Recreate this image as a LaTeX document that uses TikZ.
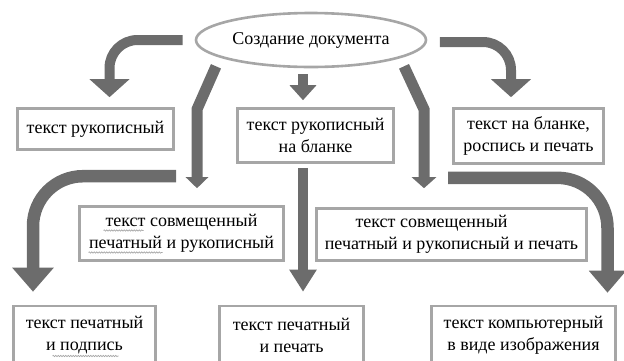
\documentclass[tikz,border=0pt]{standalone}
\usepackage{fontspec}
\setmainfont{Liberation Serif}
\newfontfamily\docfont{Liberation Serif}
\usetikzlibrary{arrows.meta,shapes.geometric,positioning,calc,decorations.pathmorphing}
\definecolor{pipegray}{RGB}{108,108,108}
\definecolor{framegray}{RGB}{166,166,166}
\tikzset{
  docfont/.style={font=\docfont\fontsize{18}{22}\selectfont},
  docbox/.style={docfont, draw=framegray, line width=2.6pt, fill=white, inner sep=0pt, align=center},
  pipe/.style n args={3}{draw=pipegray, line width=#1, -{Triangle[width=#2,length=#3]}},
  spellmark/.style={draw=black!35, line width=0.6pt, decorate,
    decoration={snake, segment length=2.5pt, amplitude=0.7pt}},
}

\begin{document}
\begin{tikzpicture}[x=1pt,y=-1pt]
\useasboundingbox (0,0) rectangle (624,360);

%Ellipse: title
\node[ellipse, docfont, draw=framegray, line width=2.6pt, minimum width=230pt, minimum height=54pt,
  inner sep=0pt] (title) at (311,40) {Создание документа};

%Boxes: first row
\node[docbox, minimum width=156pt, minimum height=41pt] (hand) at (95.5,129) {текст рукописный};
\node[docbox, minimum width=156pt, minimum height=54pt] (blank) at (315.5,135.5) {текст рукописный\\на бланке};
\node[docbox, minimum width=150pt, minimum height=55pt] (stamp) at (528.5,136) {текст на бланке,\\роспись и печать};

%Boxes: second row
\node[docbox, minimum width=204pt, minimum height=54pt] (mixed) at (181.5,233.5) {текст совмещенный\\печатный и рукописный};
\node[docbox, minimum width=270pt, minimum height=52pt] (mixedstamp) at (451.5,234.5) {\hspace*{-40pt}текст совмещенный\\печатный и рукописный и печать};

%Boxes: third row
\node[docbox, minimum width=142pt, minimum height=58pt] (sign) at (84.5,335) {текст печатный\\и подпись};
\node[docbox, minimum width=144pt, minimum height=58pt] (print) at (291.5,335) {текст печатный\\и печать};
\node[docbox, minimum width=184pt, minimum height=58pt] (image) at (523.5,335) {текст компьютерный\\в виде изображения};

%Spell-check marks under words
\draw[spellmark] ($(mixed.center)+(-78,-3)$) -- ($(mixed.center)+(-38,-3)$);
\draw[spellmark] ($(mixed.center)+(-93,19)$) -- ($(mixed.center)+(-19,19)$);
\draw[spellmark] ($(sign.center)+(-32,21)$) -- ($(sign.center)+(34,21)$);

%Arrows from the title
\draw[pipe={10pt}{39pt}{18pt}, rounded corners=28pt] ([xshift=-12pt]title.west) -| ([xshift=14pt,yshift=10pt]hand.north);
\draw[pipe={10pt}{26pt}{15pt}] ([xshift=-8pt,yshift=-6pt]title.south) -- ([xshift=-12.5pt,yshift=7pt]blank.north);
\draw[pipe={10pt}{39pt}{18pt}, rounded corners=28pt] ([xshift=12.5pt,yshift=-2pt]title.east) -| ([xshift=-17.5pt,yshift=10pt]stamp.north);
\draw[pipe={11pt}{22pt}{11pt}] ([xshift=-95pt,yshift=2pt]title.south) -- ++(-19,43) -- ([xshift=15.5pt,yshift=17pt]mixed.north);
\draw[pipe={11pt}{24pt}{11pt}] ([xshift=93pt,yshift=2pt]title.south) -- ++(20,43) -- ([xshift=-27.5pt,yshift=19pt]mixedstamp.north);

%Arrows to the third row
\draw[pipe={10pt}{26pt}{22pt}] ([xshift=-12.5pt,yshift=-4pt]blank.south) -- ([xshift=11.5pt,yshift=13pt]print.north);
\draw[pipe={12.5pt}{40pt}{24pt}, rounded corners=50pt] ([xshift=-5.5pt,yshift=29pt]mixed.north) -| ([xshift=-51.5pt,yshift=13pt]sign.north);
\draw[pipe={12.5pt}{36pt}{22pt}, rounded corners=50pt] ([xshift=-80.5pt,yshift=-13pt]stamp.south) -| ([xshift=84pt,yshift=12pt]image.north);
\end{tikzpicture}
\end{document}
